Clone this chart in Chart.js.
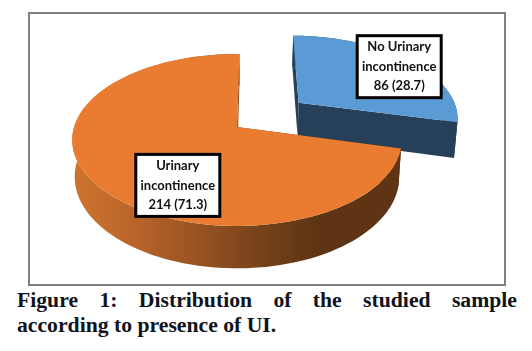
<!DOCTYPE html>
<html>
<head>
<meta charset="utf-8">
<title>Distribution of the studied sample</title>
<script src="https://cdn.jsdelivr.net/npm/chart.js@4/dist/chart.umd.min.js"></script>
<style>
  html, body { margin: 0; background: #fff; }
  #frame { position: absolute; left: 28px; top: 12px; width: 474px; height: 270px; border: 2px solid #7f7f7f; }
  #caption {
    position: absolute; left: 17px; top: 288px; width: 500px; margin: 0;
    font: bold 21.7px/25px "Liberation Serif", serif; color: #10141c;
  }
  #caption span { display: block; text-align: justify; text-align-last: justify; white-space: nowrap; }
  #caption span + span { text-align-last: left; }
</style>
</head>
<body>
<div id="frame"><canvas id="pie" width="474" height="270"></canvas></div>
<p id="caption"><span>Figure 1: Distribution of the studied sample</span><span>according to presence of UI.</span></p>
<script>
var categories = ['No Urinary incontinence', 'Urinary incontinence'];
var counts = [86, 214];
var percents = [28.7, 71.3];

var sliceColors = ['#5b9bd5', '#e97c30'];
var sliceOffsets = [45, 0];
var labelRadius = [0.88, 0.71];
var labelTurn = [2.5, -25];

// fake perspective for the 3D look
var view = { stretchX: 1.80, stretchY: 0.928, tilt: 0.151, depth: 36, shrink: 0.985 };

function project(arc, wx, wy, low) {
  var w = 1 - view.tilt * wy;
  var R = arc.outerRadius;
  return {
    x: arc.x + (low ? view.shrink : 1) * view.stretchX * R * wx / w,
    y: arc.y + (view.stretchY * R * wy + (low ? view.depth : 0)) / w
  };
}

function rimPoint(arc, angle, low, radius) {
  var mid = (arc.startAngle + arc.endAngle) / 2;
  var off = arc.options.offset / arc.outerRadius;
  var r = radius === undefined ? 1 : radius;
  return project(arc, Math.cos(angle) * r + Math.cos(mid) * off, Math.sin(angle) * r + Math.sin(mid) * off, low);
}

function fillPath(ctx, pts, color) {
  ctx.beginPath();
  pts.forEach(function(p, i) { if (i) ctx.lineTo(p.x, p.y); else ctx.moveTo(p.x, p.y); });
  ctx.closePath();
  ctx.fillStyle = color;
  ctx.fill();
}

function drawSlice(ctx, arc, wallColor) {
  var steps = 120, top = [], low = [], i, a;
  for (i = 0; i <= steps; i++) {
    a = arc.startAngle + (arc.endAngle - arc.startAngle) * i / steps;
    top.push(rimPoint(arc, a, false));
    low.push(rimPoint(arc, a, true));
  }
  // radial faces, then outer wall, then top
  fillPath(ctx, [rimPoint(arc, 0, false, 0), top[0], low[0], rimPoint(arc, 0, true, 0)], wallColor);
  fillPath(ctx, [rimPoint(arc, 0, false, 0), top[steps], low[steps], rimPoint(arc, 0, true, 0)], wallColor);
  fillPath(ctx, top.concat(low.slice().reverse()), wallColor);
  fillPath(ctx, [rimPoint(arc, 0, false, 0)].concat(top), arc.options.backgroundColor);
}

var pie3d = {
  id: 'pie3d',
  beforeDatasetDraw: function(chart) {
    var ctx = chart.ctx;
    var arcs = chart.getDatasetMeta(0).data;

    var shade = ctx.createLinearGradient(40, 0, 370, 0);
    shade.addColorStop(0, '#d0752f');
    shade.addColorStop(0.2, '#b8642a');
    shade.addColorStop(0.62, '#6e3e18');
    shade.addColorStop(0.75, '#5e3414');
    shade.addColorStop(1, '#5e3414');

    drawSlice(ctx, arcs[0], '#264059');
    drawSlice(ctx, arcs[1], shade);

    arcs.forEach(function(arc, i) {
      var a = (arc.startAngle + arc.endAngle) / 2 + labelTurn[i] * Math.PI / 180;
      var c = rimPoint(arc, a, false, labelRadius[i]);
      var words = categories[i].split(' ');
      var last = words.pop();
      var lines = [words.join(' '), last, counts[i] + ' (' + percents[i] + ')'];
      ctx.fillStyle = '#fff';
      ctx.strokeStyle = '#000';
      ctx.lineWidth = 3;
      ctx.fillRect(c.x - 42, c.y - 31, 84, 62);
      ctx.strokeRect(c.x - 42, c.y - 31, 84, 62);
      ctx.fillStyle = '#111';
      ctx.font = 'bold 13px Lato, sans-serif';
      ctx.textAlign = 'center';
      ctx.textBaseline = 'middle';
      lines.forEach(function(t, j) { ctx.fillText(t, c.x, c.y + (j - 1) * 19.5); });
    });
    return false;
  }
};

new Chart(document.getElementById('pie').getContext('2d'), {
  type: 'pie',
  data: {
    labels: categories,
    datasets: [{ data: counts, backgroundColor: sliceColors, offset: sliceOffsets, borderWidth: 0 }]
  },
  options: {
    responsive: false,
    animation: false,
    rotation: 1,
    layout: { padding: { right: 60, bottom: 44 } },
    plugins: { legend: { display: false }, tooltip: { enabled: false } }
  },
  plugins: [pie3d]
});
</script>
</body>
</html>
